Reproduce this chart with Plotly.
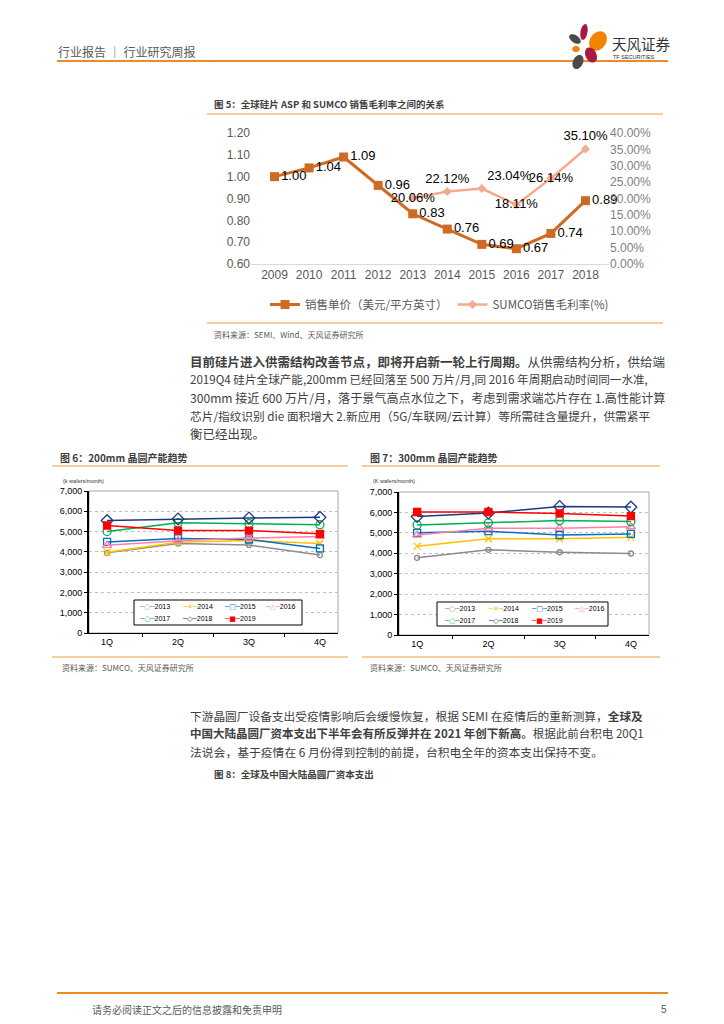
import math
import plotly.graph_objects as go

W, H = 724, 1024
OFF = 8  # default page margin of the html body


def px(x):
    return (x - OFF) / W


def py(y):
    return 1 - (y - OFF) / H


# ---------------- data ----------------
years = ['2009', '2010', '2011', '2012', '2013', '2014', '2015', '2016', '2017', '2018']
asp = [1.00, 1.04, 1.09, 0.96, 0.83, 0.76, 0.69, 0.67, 0.74, 0.89]
margin_years = ['2013', '2014', '2015', '2016', '2017', '2018']
margin_pct = [20.06, 22.12, 23.04, 18.11, 26.14, 35.10]

quarters = ['1Q', '2Q', '3Q', '4Q']
series_years = ['2013', '2014', '2015', '2016', '2017', '2018', '2019']

cap200_2013 = [3950, 4410, 4340, 3840]
cap200_2014 = [3980, 4470, 4560, 4410]
cap200_2015 = [4490, 4660, 4610, 4170]
cap200_2016 = [4320, 4550, 4680, 4760]
cap200_2017 = [5000, 5430, 5390, 5340]
cap200_2018 = [5540, 5620, 5670, 5700]
cap200_2019 = [5300, 5050, 5050, 4890]

cap300_2013 = [3780, 4170, 4050, 3990]
cap300_2014 = [4350, 4710, 4710, 4790]
cap300_2015 = [5000, 5080, 4890, 4950]
cap300_2016 = [4890, 5220, 5220, 5300]
cap300_2017 = [5390, 5490, 5600, 5550]
cap300_2018 = [5800, 5970, 6290, 6260]
cap300_2019 = [6020, 6020, 5950, 5820]

cap200 = [cap200_2013, cap200_2014, cap200_2015, cap200_2016, cap200_2017, cap200_2018, cap200_2019]
cap300 = [cap300_2013, cap300_2014, cap300_2015, cap300_2016, cap300_2017, cap300_2018, cap300_2019]

# ---------------- styles ----------------
CJK = 'Noto Sans CJK SC'
LAT = 'Liberation Sans, Arial'
ORANGE = '#F39A3C'
ASP_C = '#CF6A25'
MAR_C = '#F4AA8C'
series_style = [
    dict(color='#8C8C8C', symbol='circle-open', size=5, glyph='○'),
    dict(color='#FFC000', symbol='x-thin-open', size=7, glyph='✕'),
    dict(color='#0070C0', symbol='square-open', size=7, glyph='□'),
    dict(color='#FF7FA6', symbol='triangle-up-open', size=8, glyph='△'),
    dict(color='#00B050', symbol='circle-open', size=8, glyph='○'),
    dict(color='#1F3A7A', symbol='diamond-open', size=9, glyph='◇'),
    dict(color='#FF0000', symbol='square', size=7, glyph='■'),
]

fig = go.Figure()

# ---------- chart 1 ----------
fig.add_trace(go.Scatter(
    x=years, y=asp, name='销售单价（美元/平方英寸）',
    mode='lines+markers+text',
    line=dict(color=ASP_C, width=3),
    marker=dict(symbol='square', size=9, color=ASP_C),
    text=[f'{v:.2f}' for v in asp], textposition='middle right',
    textfont=dict(family=LAT, size=13, color='#000000'),
    xaxis='x', yaxis='y', legend='legend', cliponaxis=False))

fig.add_trace(go.Scatter(
    x=margin_years, y=[v / 100 for v in margin_pct], name='SUMCO销售毛利率(%)',
    mode='lines+markers+text',
    line=dict(color=MAR_C, width=2.5),
    marker=dict(symbol='diamond', size=7, color=MAR_C),
    text=[f'{v:.2f}%' for v in margin_pct],
    textposition=['middle center', 'top center', 'top right', 'middle center', 'middle center', 'top center'],
    textfont=dict(family=LAT, size=13, color='#000000'),
    xaxis='x', yaxis='y2', legend='legend', cliponaxis=False))

# ---------- chart 2 & 3 ----------
for i, name in enumerate(series_years):
    st = series_style[i]
    for xa, ya, vals in (('x2', 'y3', cap200[i]), ('x3', 'y4', cap300[i])):
        fig.add_trace(go.Scatter(
            x=quarters, y=vals, name=name, mode='lines+markers',
            line=dict(color=st['color'], width=1.5),
            marker=dict(symbol=st['symbol'], size=st['size'], color=st['color'],
                        line=dict(color=st['color'], width=1.3)),
            xaxis=xa, yaxis=ya, showlegend=False))

small_tick = dict(family=LAT, size=9, color='#000000')

fig.update_layout(
    width=W, height=H, margin=dict(l=0, r=0, t=0, b=0, autoexpand=False),
    paper_bgcolor='white', plot_bgcolor='white',
    font=dict(family=CJK),
    xaxis=dict(domain=[px(251), px(609)], anchor='y', type='category',
               showline=True, linecolor='#D9D9D9', linewidth=1, ticks='',
               tickangle=0,
               tickfont=dict(family=LAT, size=12, color='#595959'), showgrid=False),
    yaxis=dict(domain=[py(264), py(133)], anchor='x', range=[0.6, 1.2], dtick=0.1,
               tickformat='.2f', showgrid=False, zeroline=False,
               tickfont=dict(family=LAT, size=12, color='#595959')),
    yaxis2=dict(overlaying='y', side='right', anchor='x', range=[0, 0.40], dtick=0.05,
                tickformat='.2%', showgrid=False, zeroline=False,
                tickfont=dict(family=LAT, size=12, color='#7F7F7F')),
    xaxis2=dict(domain=[px(89), px(338)], anchor='y3', type='category',
                showline=True, linecolor='#000000', linewidth=1, ticks='outside',
                tickson='boundaries', ticklen=3, tickcolor='#000000', tickangle=0,
                tickfont=small_tick, showgrid=False),
    yaxis3=dict(domain=[py(633), py(491)], anchor='x2', range=[0, 7000], dtick=1000,
                tickformat=',', showline=True, linecolor='#000000', linewidth=2,
                showgrid=True, gridcolor='#BFBFBF', griddash='dot', zeroline=False,
                ticks='outside', ticklen=3, tickcolor='#000000', tickfont=small_tick),
    xaxis3=dict(domain=[px(399), px(649)], anchor='y4', type='category',
                showline=True, linecolor='#000000', linewidth=1, ticks='outside',
                tickson='boundaries', ticklen=3, tickcolor='#000000', tickangle=0,
                tickfont=small_tick, showgrid=False),
    yaxis4=dict(domain=[py(635), py(492)], anchor='x3', range=[0, 7000], dtick=1000,
                tickformat=',', showline=True, linecolor='#000000', linewidth=2,
                showgrid=True, gridcolor='#BFBFBF', griddash='dot', zeroline=False,
                ticks='outside', ticklen=3, tickcolor='#000000', tickfont=small_tick),
    legend=dict(orientation='h', x=px(265), y=py(290), xanchor='left', yanchor='top',
                font=dict(family=CJK, size=11.5, color='#595959'), itemwidth=30,
                bgcolor='rgba(0,0,0,0)', traceorder='normal'),
)

shapes = []
annotations = []


def hline(y, x0, x1, color=ORANGE, width=1):
    shapes.append(dict(type='line', xref='paper', yref='paper', x0=px(x0), x1=px(x1),
                       y0=py(y), y1=py(y), line=dict(color=color, width=width)))


def text(x, y, s, size=12.5, color='#333333', anchor='left', family=CJK):
    annotations.append(dict(x=px(x), y=py(y), xref='paper', yref='paper', text=s,
                            showarrow=False, xanchor=anchor, yanchor='middle',
                            font=dict(family=family, size=size, color=color)))


def ellipse(cx, cy, rx, ry, ang, color):
    a = math.radians(ang)
    pts = []
    for k in range(24):
        t = 2 * math.pi * k / 24
        ex, ey = rx * math.cos(t), ry * math.sin(t)
        X = cx + ex * math.cos(a) - ey * math.sin(a)
        Y = cy + ex * math.sin(a) + ey * math.cos(a)
        pts.append(f'{px(X):.5f},{py(Y):.5f}')
    path = 'M ' + ' L '.join(pts) + ' Z'
    shapes.append(dict(type='path', xref='paper', yref='paper', path=path,
                       fillcolor=color, line=dict(width=0)))


def text_legend(x0, y0, x1, y1, cols):
    shapes.append(dict(type='rect', xref='paper', yref='paper', x0=px(x0), x1=px(x1),
                       y0=py(y1), y1=py(y0), line=dict(color='#000000', width=1),
                       fillcolor='white'))
    rows = [y0 + 7, y0 + 19]
    for i, name in enumerate(series_years):
        st = series_style[i]
        cx = cols[i % 4]
        cy = rows[i // 4]
        key = (f"<span style='color:{st['color']}'>─{st['glyph']}─</span>"
               f"<span style='font-family:Liberation Sans'>{name}</span>")
        text(cx, cy, key, size=7, color='#000000', family='DejaVu Sans')


BODY = '#404040'

# header
text(56, 51, '行业报告 ｜ 行业研究周报', size=12, color='#595959')
hline(61, 57, 668, color='#F08A24', width=2)
ellipse(584, 32, 3.5, 8, 10, '#A8193F')
ellipse(575, 39, 6.5, 3.8, 35, '#4A4A4A')
ellipse(598, 41, 8, 10.5, 35, '#F08300')
ellipse(576, 49, 3.8, 3, 0, '#F08300')
ellipse(591, 55, 5.5, 8, -25, '#A8193F')
ellipse(578, 62, 5, 7.5, 25, '#4A4A4A')
text(610, 43, '天风证券', size=14.5, color='#333333')
text(611, 57, 'TF SECURITIES', size=5.5, color='#333333', family=LAT)

# chart 1 frame
text(212, 104, '<b>图 5：全球硅片 ASP 和 SUMCO 销售毛利率之间的关系</b>', size=9.5, color='#404040')
hline(114, 207, 663)
hline(323, 207, 663)
text(212, 334, '资料来源：SEMI、Wind、天风证券研究所', size=8, color='#595959')

# paragraph 1
text(188, 361, '<b>目前硅片进入供需结构改善节点，即将开启新一轮上行周期。</b>从供需结构分析，供给端', color=BODY)
text(188, 379, '2019Q4 硅片全球产能,200mm 已经回落至 500 万片/月,同 2016 年周期启动时间同一水准,', size=11.6, color=BODY)
text(188, 397, '300mm 接近 600 万片/月，落于景气高点水位之下，考虑到需求端芯片存在 1.高性能计算', size=12.1, color=BODY)
text(188, 415, '芯片/指纹识别 die 面积增大 2.新应用（5G/车联网/云计算）等所需硅含量提升，供需紧平', size=11.7, color=BODY)
text(188, 433, '衡已经出现。', color=BODY)

# chart 2 frame
text(58, 457, '<b>图 6：200mm 晶圆产能趋势</b>', size=10, color='#404040')
hline(466, 52, 348)
hline(657, 52, 348)
text(60, 667, '资料来源：SUMCO、天风证券研究所', size=8, color='#595959')
text(61, 481, '(k wafers/month)', size=5.5, color='#333333', family=LAT)
shapes.append(dict(type='rect', xref='x2 domain', yref='y3 domain', x0=0, x1=1, y0=0, y1=1,
                   line=dict(color='#A6A6A6', width=1), layer='below'))
text_legend(134, 600, 302, 625, [137, 180, 222, 263])

# chart 3 frame
text(368, 457, '<b>图 7：300mm 晶圆产能趋势</b>', size=10, color='#404040')
hline(466, 362, 660)
hline(657, 362, 660)
text(368, 667, '资料来源：SUMCO、天风证券研究所', size=8, color='#595959')
text(371, 481, '(K wafers/month)', size=5.5, color='#333333', family=LAT)
shapes.append(dict(type='rect', xref='x3 domain', yref='y4 domain', x0=0, x1=1, y0=0, y1=1,
                   line=dict(color='#A6A6A6', width=1), layer='below'))
text_legend(437, 602, 608, 626, [442, 486, 529, 572])

# paragraph 2
text(188, 715, '下游晶圆厂设备支出受疫情影响后会缓慢恢复，根据 SEMI 在疫情后的重新测算，<b>全球及</b>', size=11.7, color=BODY)
text(188, 733, '<b>中国大陆晶圆厂资本支出下半年会有所反弹并在 2021 年创下新高。</b>根据此前台积电 20Q1', size=11.5, color=BODY)
text(188, 751, '法说会，基于疫情在 6 月份得到控制的前提，台积电全年的资本支出保持不变。', size=11.8, color=BODY)
text(212, 774, '<b>图 8：全球及中国大陆晶圆厂资本支出</b>', size=9.5, color='#404040')

# footer
hline(993, 57, 668, color='#F08A24', width=2)
text(90, 1009, '请务必阅读正文之后的信息披露和免责申明', size=10, color='#595959')
text(659, 1009, '5', size=10, color='#595959', family=LAT)

fig.update_layout(shapes=shapes, annotations=annotations)
fig.write_html('out.html')
